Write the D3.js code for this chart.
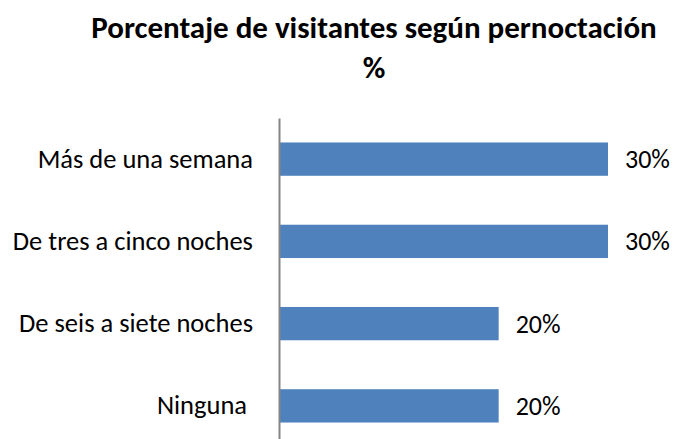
<!DOCTYPE html>
<html>
<head>
<meta charset="utf-8">
<script src="https://cdn.jsdelivr.net/npm/d3@7"></script>
<style>
  body { margin: 0; background: #fff; }
  svg text { font-family: Carlito, Lato, "Liberation Sans", sans-serif; fill: #000; }
</style>
</head>
<body>
<svg></svg>
<script>
const width = 673,
  height = 439

// data
const categories = ["Más de una semana", "De tres a cinco noches", "De seis a siete noches", "Ninguna "]
const values = [0.3, 0.3, 0.2, 0.2]
const titleLines = ["Porcentaje de visitantes según pernoctación", "%"]

const svg = d3.select("svg").attr("width", width).attr("height", height)

const x = d3.scaleLinear().domain([0, 0.3]).range([280, 608])
const y = d3
  .scaleBand()
  .domain(categories)
  .range([118, 447])
  .paddingInner(0.595)
  .paddingOuter(0.2975)

const fmt = d3.format(".0%")

// title
svg
  .append("g")
  .selectAll("text")
  .data(titleLines)
  .enter()
  .append("text")
  .attr("x", 374)
  .attr("y", (d, i) => 38 + i * 40)
  .attr("text-anchor", "middle")
  .style("font-size", "31px")
  .style("font-weight", "bold")
  .text(d => d)

// bars
svg
  .append("g")
  .selectAll("rect")
  .data(values)
  .enter()
  .append("rect")
  .attr("x", x(0))
  .attr("y", (d, i) => y(categories[i]))
  .attr("width", d => x(d) - x(0))
  .attr("height", y.bandwidth())
  .style("fill", "#4F81BD")

// value labels
svg
  .append("g")
  .selectAll("text")
  .data(values)
  .enter()
  .append("text")
  .attr("x", d => x(d) + 17)
  .attr("y", (d, i) => y(categories[i]) + y.bandwidth() / 2)
  .attr("dominant-baseline", "central")
  .style("font-size", "26px")
  .text(d => fmt(d))

// category axis
const axis = svg
  .append("g")
  .attr("transform", `translate(${x(0) - 1},0)`)
  .call(d3.axisLeft(y).tickSize(0).tickPadding(26))

axis.select(".domain").attr("stroke", "#868686").attr("stroke-width", 2)
axis
  .selectAll("text")
  .style("font-size", "26.5px")
  .attr("font-family", null)
  .style("white-space", "pre")
</script>
</body>
</html>
